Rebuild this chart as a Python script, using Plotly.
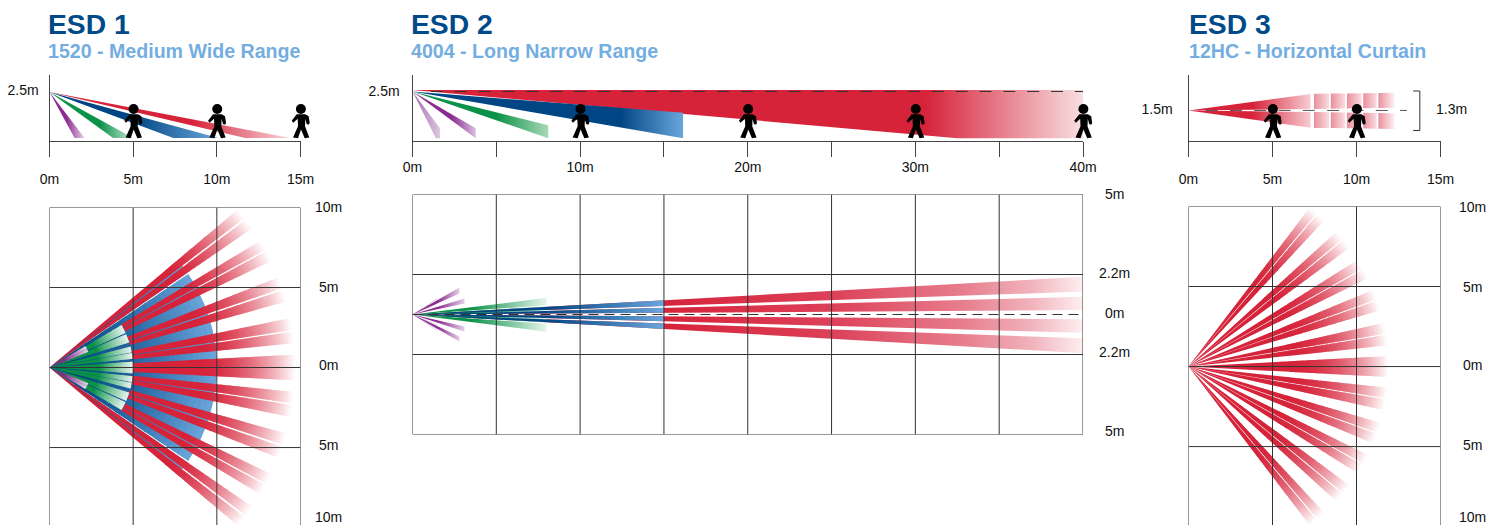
import math
import plotly.graph_objects as go

W, H = 1497, 525
RED, BLUE, LBLUE, GREEN, PURPLE = "#d6233a", "#004684", "#6ba6dc", "#0b9248", "#8b2a8f"
TITLE_C, SUB_C, INK, GRID = "#004a8a", "#74aee0", "#111111", "#333333"

TITLES = ["ESD 1", "ESD 2", "ESD 3"]
SUBTITLES = ["1520 - Medium Wide Range", "4004 - Long Narrow Range", "12HC - Horizontal Curtain"]

# ---- side view data (metres) ----
S1_TICKS = [0, 5, 10, 15]
S1_LABELS = ["0m", "5m", "10m", "15m"]
S1_PEOPLE = [5, 10, 15]
S1_RED_X, S1_RED_Y = [0, 14.4, 11.7], [2.5, 0.13, 0.13]
S1_BLUE_X, S1_BLUE_Y = [0, 10.1, 7.4], [2.5, 0.13, 0.13]
S1_GREEN_X, S1_GREEN_Y = [0, 5.0, 3.8], [2.5, 0.13, 0.13]
S1_PURPLE_X, S1_PURPLE_Y = [0, 2.1, 1.5], [2.5, 0.13, 0.13]

S2_TICKS = [0, 5, 10, 15, 20, 25, 30, 35, 40]
S2_LABELS = ["0m", "", "10m", "", "20m", "", "30m", "", "40m"]
S2_PEOPLE = [10, 20, 30, 40]
S2_RED_X, S2_RED_Y = [0, 40, 40, 32.5], [2.57, 2.57, 0.12, 0.12]
S2_BLUE_X, S2_BLUE_Y = [0, 16.14, 16.14], [2.5, 1.41, 0.12]
S2_GREEN_X, S2_GREEN_Y = [0, 8.1, 8.1], [2.5, 0.78, 0.12]
S2_PURPLE_X, S2_PURPLE_Y = [0, 3.77, 3.77], [2.5, 0.62, 0.12]
S2_PALE_X, S2_PALE_Y = [0, 1.64, 1.64, 1.4], [2.5, 0.62, 0.12, 0.12]

S3_TICKS = [0, 5, 10, 15]
S3_LABELS = ["0m", "5m", "10m", "15m"]
S3_PEOPLE = [5, 10]
S3_SOURCE = 1.5
S3_END_X = 12.26
S3_KNEE_X = 7.3
S3_GAP_START = 1.05
# (outer edge at the knee, outer edge at the end, inner edge at the end)
S3_UPPER = (2.33, 2.38, 1.63)
S3_LOWER = (0.63, 0.58, 1.36)
S3_BLOCKS = [(7.47, 8.37), (8.47, 9.32), (9.43, 10.3), (10.4, 11.2), (11.3, 12.26)]
S3_FIRST = (0, 7.27)

# ---- plan view data ----
PLAN_TICKS_15 = [0, 5, 10, 15]
PLAN_Y_TICKS = [10, 5, 0, -5, -10]
PLAN2_X_TICKS = [0, 5, 10, 15, 20, 25, 30, 35, 40]
PLAN2_Y_TICKS = [7.5, 2.5, -2.5, -7.5]

P1_RED_BEAMS = [(-3, -0.15, 5), (0.15, 3, 5), (5.7, 8.4, 5), (8.8, 11.6, 5), (15.6, 18.3, 5), (18.8, 21.5, 5),
                (25.7, 28.2, 5), (28.6, 31, 5), (34.5, 37, 0), (37.5, 40, 0),
                (-8.4, -5.7, 5), (-11.6, -8.8, 5), (-18.3, -15.6, 5), (-21.5, -18.8, 5),
                (-28.2, -25.7, 5), (-31, -28.6, 5), (-37, -34.5, 0), (-40, -37.5, 0)]
P1_BLUE_BEAMS = [(-34, 34), (34.5, 39), (-39, -34.5)]
P1_GREEN_BEAMS = [(-4, -0.2), (0.2, 4), (6, 10), (10.5, 14.5), (17.5, 23.5), (24.5, 30.5),
                  (-10, -6), (-14.5, -10.5), (-23.5, -17.5), (-30.5, -24.5)]
P1_PURPLE_BEAMS = [(22, 26), (26.5, 31), (-26, -22), (-31, -26.5)]
P1_RADII = dict(red=14.7, blue=10.0, green=5.0, purple=2.5)

P3_RED_BEAMS = [(-3, -0.1), (0.1, 3), (6.1, 9.1), (9.5, 12.6), (16.4, 19.3), (19.7, 22.6), (26.3, 29.1), (29.5, 32.3),
                (36.5, 39.3), (39.7, 42.4), (47.2, 49.8), (50.2, 52.7),
                (-9.1, -6.1), (-12.6, -9.5), (-19.3, -16.4), (-22.6, -19.7), (-29.1, -26.3), (-32.3, -29.5),
                (-39.3, -36.5), (-42.4, -39.7), (-49.8, -47.2), (-52.7, -50.2)]
P3_RADIUS = 11.9

# offsets at the beam's far end, in y-units
P2_RED_ENDS = [(2.36, 1.43), (1.11, 0.28), (-0.30, -1.14), (-1.49, -2.42)]
P2_RED_X = 40
P2_BLUE_X = 15
P2_GREEN_ENDS = [(1.04, 0.58), (0.50, 0.12), (-0.12, -0.50), (-0.58, -1.08)]
P2_GREEN_X = 8.0
P2_PURPLE = [(2.8, 1.69, 1.31), (3.1, 1.0, 0.69), (3.1, -0.75, -1.06), (2.8, -1.38, -1.69)]
P2_PALE = [(1.5, 1.05, 0.62), (1.5, -0.62, -1.05)]

# person glyph outline (pixels from the foot anchor)
PERSON_Z = [(388, 342), (373, 362), (378, 368), (391, 356), (392, 378), (377, 412), (392, 414), (401, 388),
            (412, 414), (426, 412), (413, 378), (414, 356), (418, 372), (425, 373), (427, 368), (424, 348), (414, 342)]


def mix(c, t):
    c = c.lstrip("#")
    r, g, b = [int(c[i:i + 2], 16) for i in (0, 2, 4)]
    return f"rgb({round(r + (255 - r) * t)},{round(g + (255 - g) * t)},{round(b + (255 - b) * t)})"


def lerp(a, b, t):
    a, b = a.lstrip("#"), b.lstrip("#")
    va = [int(a[i:i + 2], 16) for i in (0, 2, 4)]
    vb = [int(b[i:i + 2], 16) for i in (0, 2, 4)]
    return "rgb(" + ",".join(str(round(p + (q - p) * t)) for p, q in zip(va, vb)) + ")"


fig = go.Figure()


def dom_x(a, b):
    return [a / W, b / W]


def dom_y(top, bottom):
    return [1 - bottom / H, 1 - top / H]


def grad(xs, ys, ax, start, stop, c0, c1, scale=None):
    fig.add_trace(go.Scatter(
        x=xs + [xs[0]], y=ys + [ys[0]], xaxis=ax[0], yaxis=ax[1], mode="lines", fill="toself",
        line=dict(width=0), hoverinfo="skip", showlegend=False,
        fillgradient=dict(type="horizontal", start=start, stop=stop,
                          colorscale=scale or [[0, c0], [1, c1]])))


def fan(ax, beams, r_end, aspect, steps, r_fade, colorf):
    r_lo = [b[2] if len(b) > 2 else 0 for b in beams]
    bands = [(0, r_fade, 0.0)]
    for i in range(steps):
        a = r_fade + (r_end - r_fade) * i / steps
        b = r_fade + (r_end - r_fade) * (i + 1) / steps
        bands.append((a, b, (i + 0.5) / steps))
    for r0, r1, t in bands:
        r1x = min(r1 + 0.05, r_end)
        xs, ys = [], []
        for b, rl in zip(beams, r_lo):
            if r1x <= rl:
                continue
            ra = max(r0, rl)
            a0, a1 = math.radians(b[0]), math.radians(b[1])
            n = max(3, int(abs(b[1] - b[0]) / 2))
            angs = [a0 + (a1 - a0) * k / n for k in range(n + 1)]
            for a in angs:
                xs.append(r1x * math.cos(a)); ys.append(r1x * math.sin(a) * aspect)
            for a in reversed(angs):
                xs.append(ra * math.cos(a)); ys.append(ra * math.sin(a) * aspect)
            xs.append(None); ys.append(None)
        if not xs:
            continue
        fig.add_trace(go.Scatter(x=xs, y=ys, xaxis=ax[0], yaxis=ax[1], mode="lines", fill="toself",
                                 line=dict(width=0), fillcolor=colorf(t), hoverinfo="skip", showlegend=False))


def grid(ax, xticks, yticks, xr, yr):
    xs, ys = [], []
    for v in xticks:
        xs += [v, v, None]; ys += [yr[0], yr[1], None]
    for v in yticks:
        xs += [xr[0], xr[1], None]; ys += [v, v, None]
    fig.add_trace(go.Scatter(x=xs, y=ys, xaxis=ax[0], yaxis=ax[1], mode="lines", cliponaxis=False,
                             line=dict(color=GRID, width=1), hoverinfo="skip", showlegend=False))


def poly_line(ax, xs, ys, color="#333333", dash=None):
    fig.add_trace(go.Scatter(x=xs, y=ys, xaxis=ax[0], yaxis=ax[1], mode="lines", cliponaxis=False,
                             line=dict(color=color, width=1, dash=dash), hoverinfo="skip", showlegend=False))


# ---------------- side 1 ----------------
A = ("x", "y")
grad(S1_RED_X, S1_RED_Y, A, 8.5, 14.4, RED, "#f8d5da")
grad(S1_BLUE_X, S1_BLUE_Y, A, 5.0, 10.1, BLUE, LBLUE)
grad(S1_GREEN_X, S1_GREEN_Y, A, 3.0, 5.0, GREEN, "#c8e8d4")
grad(S1_PURPLE_X, S1_PURPLE_Y, A, 1.0, 2.1, PURPLE, "#e8d3ea")

# ---------------- side 2 ----------------
A = ("x2", "y2")
grad(S2_RED_X, S2_RED_Y, A, 30.6, 40, RED, "#f8dfe2")
grad(S2_BLUE_X, S2_BLUE_Y, A, 12.4, 16.14, BLUE, LBLUE)
grad(S2_GREEN_X, S2_GREEN_Y, A, 5.0, 8.1, GREEN, "#a9d9b8")
grad(S2_PURPLE_X, S2_PURPLE_Y, A, 2.3, 3.77, PURPLE, "#d9bede")
grad(S2_PALE_X, S2_PALE_Y, A, 0, 1.64, "#a26aaf", "#dcc8e0")
poly_line(A, [1.1, 40], [2.5, 2.5], "#333333", "12px,11.85px")

# ---------------- side 3 ----------------
A = ("x3", "y3")


def s3_band(x0, x1, c0, c1):
    for knee, end, inner in (S3_UPPER, S3_LOWER):
        def yo(x):
            if x <= S3_KNEE_X:
                return S3_SOURCE + (knee - S3_SOURCE) * x / S3_KNEE_X
            return knee + (end - knee) * (x - S3_KNEE_X) / (S3_END_X - S3_KNEE_X)

        def yi(x):
            return S3_SOURCE + (inner - S3_SOURCE) * max(0, x - S3_GAP_START) / (S3_END_X - S3_GAP_START)

        if x0 == 0:
            xs = [x0, x1, x1, S3_GAP_START]
            ys = [yo(x0), yo(x1), yi(x1), yi(S3_GAP_START)]
        else:
            xs = [x0, x1, x1, x0]
            ys = [yo(x0), yo(x1), yi(x1), yi(x0)]
        grad(xs, ys, A, x0 if x0 > 0 else 3.8, x1, c0, c1)


s3_band(S3_FIRST[0], S3_FIRST[1], RED, "#f7cdd3")
for i, (b0, b1) in enumerate(S3_BLOCKS):
    s3_band(b0, b1, "#ea8e9c", "#fdf1f2" if i == len(S3_BLOCKS) - 1 else "#f8dde0")
poly_line(A, [1.02, 13.0], [1.5, 1.5], "#555555", "12px,12.3px")
poly_line(A, [13.37, 13.77, 13.77, 13.37], [2.47, 2.47, 0.5, 0.5], "#333333")

# ---------------- plan 1 ----------------
A = ("x4", "y4")
ASP1 = 16.73 / 16

fan(A, P1_BLUE_BEAMS, P1_RADII["blue"], ASP1, 24, 1.5, lambda t: lerp(BLUE, LBLUE, t ** 1.25))
fan(A, P1_RED_BEAMS, P1_RADII["red"], ASP1, 50, 9.0, lambda t: mix(RED, t ** 1.7))
fan(A, P1_GREEN_BEAMS, P1_RADII["green"], ASP1, 24, 3.0, lambda t: mix(GREEN, 0.9 * t ** 0.9))
fan(A, P1_PURPLE_BEAMS, P1_RADII["purple"], ASP1, 12, 1.0, lambda t: mix(PURPLE, 0.8 * t))
grid(A, PLAN_TICKS_15, PLAN_Y_TICKS, (0, 15), (-10, 10))

# ---------------- plan 2 ----------------
A = ("x5", "y5")
RED_PLAN2_SCALE = [[0, RED], [0.4, "#dc4058"], [0.72, "#e77f8e"], [0.88, "#f1b4bd"], [1, "#fdeff1"]]
for hi, lo in P2_RED_ENDS:
    grad([0, P2_RED_X, P2_RED_X], [0, hi, lo], A, 15, 40, RED, "#fde9eb", RED_PLAN2_SCALE)
for (hi, lo) in P2_GREEN_ENDS:
    grad([0, P2_GREEN_X, P2_GREEN_X], [0, hi, lo], A, 3.5, 8.0, GREEN, "#e6f5ec")
for px, hi, lo in P2_PALE:
    grad([0, px, px], [0, hi, lo], A, 0, px, "#c9a6cf", "#f2e8f3")
for px, hi, lo in P2_PURPLE:
    grad([0, px, px], [0, hi, lo], A, 1.5, px, PURPLE, "#e3cfe6")
f = P2_BLUE_X / P2_RED_X
for hi, lo in P2_RED_ENDS:
    grad([0, P2_BLUE_X, P2_BLUE_X], [0, hi * f, lo * f], A, 8, 15, BLUE, LBLUE)
grid(A, PLAN2_X_TICKS, PLAN2_Y_TICKS, (0, 40), (-7.5, 7.5))
poly_line(A, [0, 40.3], [0, 0], "#333333", "10px,6px")

# ---------------- plan 3 ----------------
A = ("x6", "y6")
fan(A, P3_RED_BEAMS, P3_RADIUS, 16.76 / 16, 50, 6.0, lambda t: mix(RED, t ** 2))
grid(A, PLAN_TICKS_15, PLAN_Y_TICKS, (0, 15), (-10, 10))

# ---------------- axes ----------------
FONT = dict(family="Liberation Sans, Arial, sans-serif", size=14, color=INK)


def side_axes(i, left, right, x_max, ticks, labels, standoff, y_tick, y_label, y_max, ystand):
    s = "" if i == 1 else str(i)
    return {
        f"xaxis{s}": dict(domain=dom_x(left, right), range=[0, x_max], anchor=f"y{s}", tickmode="array",
                          tickvals=ticks, ticktext=labels, ticks="outside", ticklen=15, tickwidth=1,
                          tickcolor="#444444", showline=True, linecolor="#444444", linewidth=1, showgrid=False,
                          zeroline=False, tickfont=FONT, ticklabelstandoff=standoff, tickangle=0),
        f"yaxis{s}": dict(domain=dom_y(75, 140.5), range=[0, y_max], anchor=f"x{s}", tickmode="array",
                          tickvals=[y_tick], ticktext=[y_label], ticks="", showline=True, linecolor="#444444",
                          linewidth=1, showgrid=False, zeroline=False, tickfont=FONT, ticklabelstandoff=ystand),
    }


def plan_axes(i, left, right, x_max, top, bottom, y_lo, y_hi):
    return {
        f"xaxis{i}": dict(domain=dom_x(left, right), range=[0, x_max], anchor=f"y{i}", visible=False),
        f"yaxis{i}": dict(domain=dom_y(top, bottom), range=[y_lo, y_hi], anchor=f"x{i}", visible=False),
    }


layout = dict(width=W, height=H, margin=dict(l=0, r=0, t=0, b=0, pad=0, autoexpand=False), paper_bgcolor="white",
              plot_bgcolor="rgba(0,0,0,0)", showlegend=False)
layout.update(side_axes(1, 49.5, 300.5, 15, S1_TICKS, S1_LABELS, 11, 2.58, "2.5m", 3.37, 7))
layout.update(side_axes(2, 412.5, 1083, 40, S2_TICKS, S2_LABELS, -1, 2.5, "2.5m", 3.34, 9))
layout.update(side_axes(3, 1188.5, 1440.5, 15, S3_TICKS, S3_LABELS, 11, 1.55, "1.5m", 3.27, 12))
layout.update(plan_axes(4, 49.5, 300.5, 15, 207.5, 525, -9.84, 10))
layout.update(plan_axes(5, 412.5, 1083, 40, 194.5, 434.5, -7.5, 7.5))
layout.update(plan_axes(6, 1188.5, 1440.5, 15, 206.5, 525, -9.9, 10))
fig.update_layout(**layout)

# ---------------- people ----------------
shapes = []
outline = [((x - 401) / 3 + 0.5, (415 - y) / 3 + 2) for x, y in PERSON_Z]
path = "M " + " L ".join(f"{x:.1f},{y:.1f}" for x, y in outline) + " Z"
for left, right, x_max, people in ((49.5, 300.5, 15, S1_PEOPLE), (412.5, 1083, 40, S2_PEOPLE), (1188.5, 1440.5, 15, S3_PEOPLE)):
    for m in people:
        ax = (left + (right - left) * m / x_max) / W
        ay = 1 - 140.5 / H
        shapes.append(dict(type="path", path=path, xref="paper", yref="paper", xsizemode="pixel", ysizemode="pixel",
                           xanchor=ax, yanchor=ay, fillcolor="black", line=dict(width=0)))
        shapes.append(dict(type="circle", xref="paper", yref="paper", xsizemode="pixel", ysizemode="pixel",
                           xanchor=ax, yanchor=ay, x0=-4.6, x1=5.4, y0=26.5, y1=36.5, fillcolor="black", line=dict(width=0)))
fig.update_layout(shapes=shapes)

# ---------------- text ----------------
ann = []


def text(px, py, s, size=14, color=INK, bold=False, anchor="center"):
    ann.append(dict(x=px / W, y=1 - py / H, xref="paper", yref="paper", text=f"<b>{s}</b>" if bold else s,
                    showarrow=False, xanchor=anchor, yanchor="middle", borderpad=0,
                    font=dict(family="Liberation Sans, Arial, sans-serif", size=size, color=color)))


for x, t, sub in zip((47, 410, 1188), TITLES, SUBTITLES):
    text(x, 24.5, t, 28.3, TITLE_C, True, "left")
    text(x, 51, sub, 19.6, SUB_C, True, "left")
for y, s in zip((207, 286.5, 365, 445, 516.5), ("10m", "5m", "0m", "5m", "10m")):
    text(328.5, y, s)
    text(1472, y, s)
for y, s in zip((194, 273, 313, 352, 431), ("5m", "2.2m", "0m", "2.2m", "5m")):
    text(1114, y, s)
text(1451, 109, "1.3m")
fig.update_layout(annotations=ann)

fig.write_html("out.html", config=dict(displayModeBar=False),
               post_script="document.body.style.margin='0';document.body.style.overflow='hidden';")
